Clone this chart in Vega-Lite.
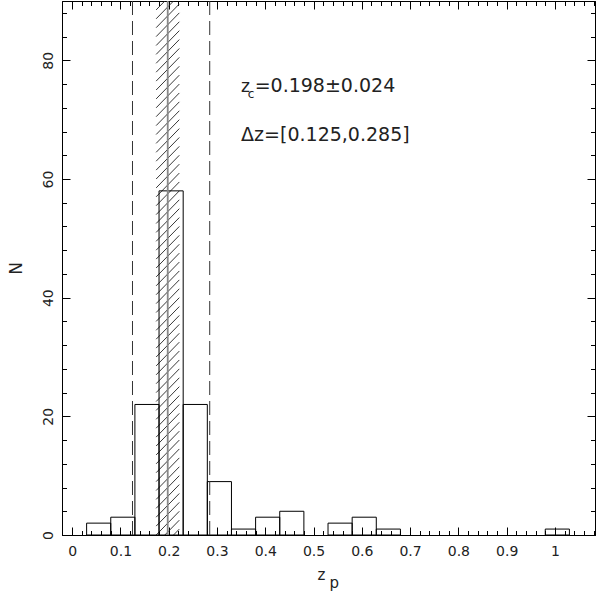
{
  "$schema": "https://vega.github.io/schema/vega-lite/v6.json",
  "width": 533,
  "height": 534,
  "autosize": {"type": "none"},
  "padding": {"left": 62, "top": 1, "right": 1, "bottom": 60},
  "background": "white",
  "config": {
    "view": {"stroke": "black", "strokeWidth": 1},
    "axis": {"grid": false, "domainColor": "black", "tickColor": "black", "labelFont": "DejaVu Sans", "titleFont": "DejaVu Sans", "labelColor": "#222", "titleColor": "#222", "titleFontWeight": "normal", "labelFlush": false, "labelOverlap": false}
  },
  "data": {"values": [{}]},
  "datasets": {
    "bars": [
      {"x0": 0.03, "x1": 0.08, "n": 2},
      {"x0": 0.08, "x1": 0.13, "n": 3},
      {"x0": 0.13, "x1": 0.18, "n": 22},
      {"x0": 0.18, "x1": 0.23, "n": 58},
      {"x0": 0.23, "x1": 0.28, "n": 22},
      {"x0": 0.28, "x1": 0.33, "n": 9},
      {"x0": 0.33, "x1": 0.38, "n": 1},
      {"x0": 0.38, "x1": 0.43, "n": 3},
      {"x0": 0.43, "x1": 0.48, "n": 4},
      {"x0": 0.53, "x1": 0.58, "n": 2},
      {"x0": 0.58, "x1": 0.63, "n": 3},
      {"x0": 0.63, "x1": 0.68, "n": 1},
      {"x0": 0.98, "x1": 1.03, "n": 1}
    ],
    "hatch": [
      {"a": -4.5, "b": -0.5}, {"a": -3, "b": 1}, {"a": -1.5, "b": 2.5}, {"a": 0, "b": 4}, {"a": 1.5, "b": 5.5}, {"a": 3, "b": 7}, {"a": 4.5, "b": 8.5}, {"a": 6, "b": 10}, {"a": 7.5, "b": 11.5}, {"a": 9, "b": 13}, {"a": 10.5, "b": 14.5}, {"a": 12, "b": 16}, {"a": 13.5, "b": 17.5}, {"a": 15, "b": 19}, {"a": 16.5, "b": 20.5}, {"a": 18, "b": 22}, {"a": 19.5, "b": 23.5}, {"a": 21, "b": 25}, {"a": 22.5, "b": 26.5}, {"a": 24, "b": 28}, {"a": 25.5, "b": 29.5}, {"a": 27, "b": 31}, {"a": 28.5, "b": 32.5}, {"a": 30, "b": 34}, {"a": 31.5, "b": 35.5}, {"a": 33, "b": 37}, {"a": 34.5, "b": 38.5}, {"a": 36, "b": 40}, {"a": 37.5, "b": 41.5}, {"a": 39, "b": 43}, {"a": 40.5, "b": 44.5}, {"a": 42, "b": 46}, {"a": 43.5, "b": 47.5}, {"a": 45, "b": 49}, {"a": 46.5, "b": 50.5}, {"a": 48, "b": 52}, {"a": 49.5, "b": 53.5}, {"a": 51, "b": 55}, {"a": 52.5, "b": 56.5}, {"a": 54, "b": 58}, {"a": 55.5, "b": 59.5}, {"a": 57, "b": 61}, {"a": 58.5, "b": 62.5}, {"a": 60, "b": 64}, {"a": 61.5, "b": 65.5}, {"a": 63, "b": 67}, {"a": 64.5, "b": 68.5}, {"a": 66, "b": 70}, {"a": 67.5, "b": 71.5}, {"a": 69, "b": 73}, {"a": 70.5, "b": 74.5}, {"a": 72, "b": 76}, {"a": 73.5, "b": 77.5}, {"a": 75, "b": 79}, {"a": 76.5, "b": 80.5}, {"a": 78, "b": 82}, {"a": 79.5, "b": 83.5}, {"a": 81, "b": 85}, {"a": 82.5, "b": 86.5}, {"a": 84, "b": 88}, {"a": 85.5, "b": 89.5}, {"a": 87, "b": 91}, {"a": 88.5, "b": 92.5}
    ],
    "dashed": [{"z": 0.125}, {"z": 0.285}]
  },
  "layer": [
    {
      "data": {"name": "hatch"},
      "mark": {"type": "rule", "clip": true, "color": "#222", "strokeWidth": 0.9},
      "encoding": {
        "x": {"datum": 0.174, "type": "quantitative",
              "scale": {"domain": [-0.021, 1.083], "nice": false, "zero": false},
              "axis": {"orient": "bottom", "values": [0, 0.1, 0.2, 0.3, 0.4, 0.5, 0.6, 0.7, 0.8, 0.9, 1], "format": ".1~f", "ticks": false, "labelPadding": 9, "labelFontSize": 14, "title": null}},
        "x2": {"datum": 0.222},
        "y": {"field": "a", "type": "quantitative",
              "scale": {"domain": [0, 90], "nice": false, "zero": false},
              "axis": {"orient": "left", "values": [0, 20, 40, 60, 80], "ticks": false, "labelPadding": 10, "labelFontSize": 14, "labelAngle": -90, "labelAlign": "center", "labelBaseline": "alphabetic", "title": "N", "titleFontSize": 17, "titlePadding": 16}},
        "y2": {"field": "b"}
      }
    },
    {
      "data": {"name": "bars"},
      "mark": {"type": "rect", "fill": "white", "fillOpacity": 0, "stroke": "black", "strokeWidth": 1},
      "encoding": {
        "x": {"field": "x0", "type": "quantitative", "axis": {"orient": "top", "values": [0, 0.1, 0.2, 0.3, 0.4, 0.5, 0.6, 0.7, 0.8, 0.9, 1], "tickSize": -8, "labels": false, "title": null}},
        "x2": {"field": "x1"},
        "y": {"field": "n", "type": "quantitative", "axis": {"orient": "right", "values": [0, 20, 40, 60, 80], "tickSize": -8, "labels": false, "title": null}},
        "y2": {"datum": 0}
      }
    },
    {
      "data": {"name": "dashed"},
      "mark": {"type": "rule", "color": "#333", "strokeWidth": 1, "strokeDash": [14, 6]},
      "encoding": {
        "x": {"field": "z", "type": "quantitative", "axis": {"orient": "top", "domain": false, "values": [0, 0.02, 0.04, 0.06, 0.08, 0.1, 0.12, 0.14, 0.16, 0.18, 0.2, 0.22, 0.24, 0.26, 0.28, 0.3, 0.32, 0.34, 0.36, 0.38, 0.4, 0.42, 0.44, 0.46, 0.48, 0.5, 0.52, 0.54, 0.56, 0.58, 0.6, 0.62, 0.64, 0.66, 0.68, 0.7, 0.72, 0.74, 0.76, 0.78, 0.8, 0.82, 0.84, 0.86, 0.88, 0.9, 0.92, 0.94, 0.96, 0.98, 1, 1.02, 1.04, 1.06, 1.08], "tickSize": -4.5, "labels": false, "title": null}},
        "y": {"datum": 0, "type": "quantitative", "axis": {"orient": "right", "domain": false, "values": [0, 4, 8, 12, 16, 20, 24, 28, 32, 36, 40, 44, 48, 52, 56, 60, 64, 68, 72, 76, 80, 84, 88], "tickSize": -4.5, "labels": false, "title": null}},
        "y2": {"datum": 90}
      }
    },
    {
      "mark": {"type": "rule", "color": "#888", "strokeWidth": 1.8},
      "encoding": {
        "x": {"datum": 0.198, "type": "quantitative", "axis": {"orient": "top", "offset": -534, "domain": false, "values": [0, 0.1, 0.2, 0.3, 0.4, 0.5, 0.6, 0.7, 0.8, 0.9, 1], "tickSize": 8, "labels": false, "title": null}},
        "y": {"datum": 0, "type": "quantitative", "axis": {"orient": "right", "offset": -533, "domain": false, "values": [0, 20, 40, 60, 80], "tickSize": 8, "labels": false, "title": null}},
        "y2": {"datum": 90}
      }
    },
    {
      "mark": {"type": "text", "text": "Δz=[0.125,0.285]", "font": "DejaVu Sans", "fontSize": 19, "color": "#222", "align": "left", "baseline": "alphabetic"},
      "encoding": {
        "x": {"datum": 0.35, "type": "quantitative", "axis": {"orient": "top", "offset": -534, "domain": false, "values": [0, 0.02, 0.04, 0.06, 0.08, 0.1, 0.12, 0.14, 0.16, 0.18, 0.2, 0.22, 0.24, 0.26, 0.28, 0.3, 0.32, 0.34, 0.36, 0.38, 0.4, 0.42, 0.44, 0.46, 0.48, 0.5, 0.52, 0.54, 0.56, 0.58, 0.6, 0.62, 0.64, 0.66, 0.68, 0.7, 0.72, 0.74, 0.76, 0.78, 0.8, 0.82, 0.84, 0.86, 0.88, 0.9, 0.92, 0.94, 0.96, 0.98, 1, 1.02, 1.04, 1.06, 1.08], "tickSize": 4.5, "labels": false, "title": null}},
        "y": {"datum": 66.46, "type": "quantitative", "axis": {"orient": "right", "offset": -533, "domain": false, "values": [0, 4, 8, 12, 16, 20, 24, 28, 32, 36, 40, 44, 48, 52, 56, 60, 64, 68, 72, 76, 80, 84, 88], "tickSize": 4.5, "labels": false, "title": null}}
      }
    },
    {
      "mark": {"type": "text", "text": "z", "font": "DejaVu Sans", "fontSize": 17, "color": "#222", "align": "left", "baseline": "alphabetic"},
      "encoding": {"x": {"datum": 0.35, "type": "quantitative", "axis": null}, "y": {"datum": 74.67, "type": "quantitative", "axis": null}}
    },
    {
      "mark": {"type": "text", "text": "c", "font": "DejaVu Sans", "fontSize": 12, "color": "#222", "align": "left", "baseline": "alphabetic"},
      "encoding": {"x": {"datum": 0.364, "type": "quantitative", "axis": null}, "y": {"datum": 73.65, "type": "quantitative", "axis": null}}
    },
    {
      "mark": {"type": "text", "text": "=0.198±0.024", "font": "DejaVu Sans", "fontSize": 19, "color": "#222", "align": "left", "baseline": "alphabetic"},
      "encoding": {"x": {"datum": 0.378, "type": "quantitative", "axis": null}, "y": {"datum": 74.67, "type": "quantitative", "axis": null}}
    },
    {
      "mark": {"type": "text", "text": "z", "font": "DejaVu Sans", "fontSize": 15, "color": "#222", "align": "left", "baseline": "alphabetic", "dy": 45},
      "encoding": {"x": {"datum": 0.508, "type": "quantitative", "axis": null}, "y": {"datum": 0, "type": "quantitative", "axis": null}}
    },
    {
      "mark": {"type": "text", "text": "p", "font": "DejaVu Sans", "fontSize": 15, "color": "#222", "align": "left", "baseline": "alphabetic", "dy": 53},
      "encoding": {"x": {"datum": 0.533, "type": "quantitative", "axis": null}, "y": {"datum": 0, "type": "quantitative", "axis": null}}
    }
  ],
  "resolve": {"axis": {"x": "independent", "y": "independent"}}
}
